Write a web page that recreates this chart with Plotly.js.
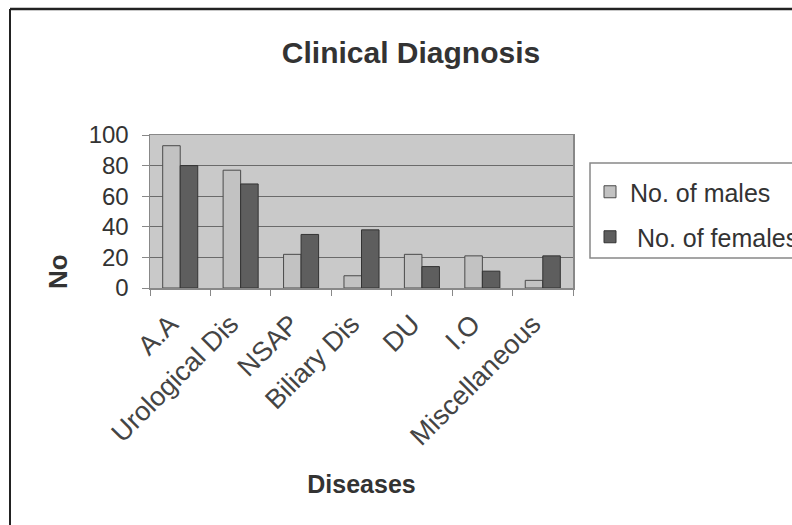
<!DOCTYPE html>
<html>
<head>
<meta charset="utf-8">
<script src="https://cdn.plot.ly/plotly-3.0.1.min.js"></script>
<style>html,body{margin:0;padding:0;background:#fff;} #chart{width:792px;height:525px;}</style>
</head>
<body>
<div id="chart"></div>
<script>
const categories = ["A.A", "Urological Dis", "NSAP", "Biliary Dis", "DU", "I.O", "Miscellaneous"];
const males = [93, 77, 22, 8, 22, 21, 5];
const females = [80, 68, 35, 38, 14, 11, 21];
const yTicks = [0, 20, 40, 60, 80, 100];

const L = 150, R = 573, T = 135, B = 288;
const px = x => (x - L) / (R - L);
const py = y => (B - y) / (B - T);

const font = "Arial, 'Liberation Sans', sans-serif";

const data = [
  {type: "bar", name: "No. of males", x: categories, y: males, showlegend: true,
   marker: {color: "#c2c2c2", line: {color: "#4a4a4a", width: 1}}, legend: "legend"},
  {type: "bar", name: " No. of females", x: categories, y: females, showlegend: true,
   marker: {color: "#5e5e5e", line: {color: "#333", width: 1}}, legend: "legend2"}
];

const layout = {
  width: 792, height: 525,
  showlegend: true,
  margin: {l: L, r: 792 - R, t: T, b: 525 - B, pad: 0, autoexpand: false},
  paper_bgcolor: "#ffffff",
  plot_bgcolor: "#c9c9c9",
  barmode: "group",
  bargap: 0.42,
  bargroupgap: 0,
  font: {family: font, color: "#333"},
  title: {text: "<b>Clinical Diagnosis</b>", x: 411 / 792, xref: "container", xanchor: "center",
          y: 1 - 52 / 525, yref: "container", yanchor: "middle",
          font: {size: 30, color: "#333", family: font}},
  xaxis: {
    type: "category", tickangle: -45, tickfont: {size: 27, color: "#444"},
    ticks: "outside", ticklen: 6, tickcolor: "#888", tickson: "boundaries",
    ticklabelstandoff: 8, ticklabelshift: -10,
    showline: true, linecolor: "#888", linewidth: 1.5, mirror: true,
    showgrid: false,
    title: {text: "<b>Diseases</b>", font: {size: 25, color: "#333"}, standoff: 25}
  },
  yaxis: {
    range: [0, 100], tickvals: yTicks, ticktext: yTicks.map(String),
    tickfont: {size: 24, color: "#333"},
    ticks: "outside", ticklen: 7, tickcolor: "#888", ticklabelstandoff: 8,
    showline: true, linecolor: "#888", linewidth: 1.5, mirror: true,
    showgrid: true, gridcolor: "#6a6a6a", gridwidth: 1, zeroline: false
  },
  annotations: [
    {text: "<b>No</b>", xref: "paper", yref: "paper", x: px(58), y: py(272),
     xanchor: "center", yanchor: "middle", textangle: -90, showarrow: false,
     font: {size: 26, color: "#333"}}
  ],
  legend: {x: px(590), y: py(192), xanchor: "left", yanchor: "middle",
           bgcolor: "rgba(0,0,0,0)", font: {size: 25, color: "#333"}},
  legend2: {x: px(590), y: py(237), xanchor: "left", yanchor: "middle",
            bgcolor: "rgba(0,0,0,0)", font: {size: 25, color: "#333"}},
  shapes: [
    {type: "rect", xref: "paper", yref: "paper", x0: px(590), x1: px(820), y0: py(258), y1: py(163),
     line: {color: "#888", width: 1.5}},
    {type: "line", xref: "paper", yref: "paper", x0: px(10), x1: px(820), y0: py(9), y1: py(9),
     line: {color: "#222", width: 2.5}},
    {type: "line", xref: "paper", yref: "paper", x0: px(10), x1: px(10), y0: py(9), y1: py(540),
     line: {color: "#222", width: 2}}
  ]
};

Plotly.newPlot("chart", data, layout, {displayModeBar: false, staticPlot: true});
</script>
</body>
</html>
